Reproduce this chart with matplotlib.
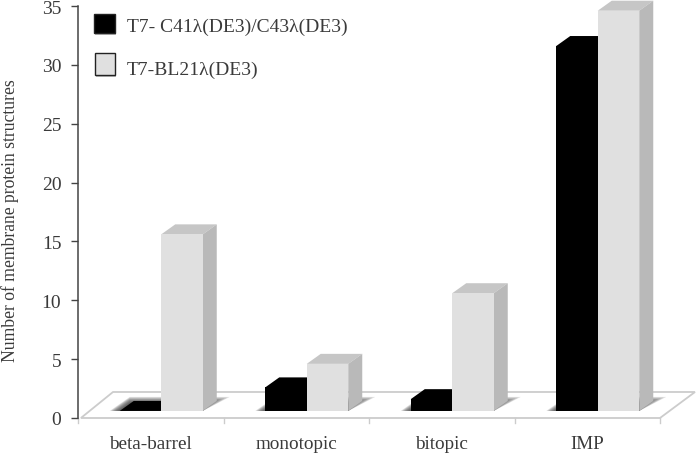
import matplotlib
matplotlib.use("Agg")
import matplotlib.pyplot as plt
import matplotlib.patches as patches

categories = ["beta-barrel", "monotopic", "bitopic", "IMP"]
c41_c43 = [0, 2, 1, 31]
bl21 = [15, 4, 10, 34]
y_ticks = [0, 5, 10, 15, 20, 25, 30, 35]
series_names = ["T7- C41\u03bb(DE3)/C43\u03bb(DE3)", "T7-BL21\u03bb(DE3)"]

W, H = 697, 456
plt.rcParams['font.family'] = ['Liberation Serif', 'DejaVu Serif']
TEXT = '#3a3a3a'

fig = plt.figure(figsize=(W / 100, H / 100), dpi=100)
# axes box in pixels: x 78-660, y 419-7
ax = fig.add_axes([78 / W, 1 - 419 / H, 582 / W, 412 / H])
ax.set_xlim(0, 4)
ax.set_ylim(0, 35)
for s in ['top', 'right', 'bottom']:
    ax.spines[s].set_visible(False)
ax.spines['left'].set_color('#444444')
ax.spines['left'].set_linewidth(1.1)
ax.patch.set_alpha(0)

# depth of the fake 3d, in data units
DX = 14 / 145.5
DY = 10 / 11.77
BASE = 0.6
BAR_W = 41.5 / 145.5
BAR_SHIFT = 10.5 / 145.5


def poly(pts, color, z, alpha=1.0, edge='none', lw=0):
    ax.add_patch(patches.Polygon(pts, closed=True, facecolor=color, edgecolor=edge,
                                 linewidth=lw, alpha=alpha, zorder=z, clip_on=False))


def draw_bar(x0, value, front, top, side, z):
    x1 = x0 + BAR_W
    y1 = BASE + value
    poly([(x0, y1), (x0 + DX, y1 + DY), (x1 + DX, y1 + DY), (x1, y1)], top, z)
    poly([(x1, BASE), (x1 + DX, BASE + DY), (x1 + DX, y1 + DY), (x1, y1)], side, z)
    poly([(x0, BASE), (x1, BASE), (x1, y1), (x0, y1)], front, z + 0.1)


def draw_shadow(x0, x1):
    # soft shadow on the floor, stacked see-through layers
    for i in range(10):
        k = 1 - i / 10
        sx = 27 / 145.5 * k
        sy = 14 / 11.77 * (0.5 + 0.5 * k)
        poly([(x0 - 10 / 145.5 * k, BASE), (x1, BASE),
              (x1 + sx, BASE + sy), (x0 + 10 / 145.5, BASE + sy)],
             '#444444', 1.5, alpha=0.16)


# floor
poly([(0.02, 0), (4, 0), (4 + 35 / 145.5, 26 / 11.77), (35 / 145.5, 26 / 11.77)],
     'white', 1, edge='#cccccc', lw=1.3)

for i, (a, b) in enumerate(zip(c41_c43, bl21)):
    left = i + 0.5 - BAR_W + BAR_SHIFT
    draw_shadow(left, left + 2 * BAR_W)
    draw_bar(left, a, 'black', 'black', 'black', 3)
    draw_bar(left + BAR_W, b, '#e0e0e0', '#c6c6c6', '#b9b9b9', 4)

ax.set_yticks(y_ticks)
ax.set_xticks([0.5, 1.5, 2.5, 3.5], categories)
ax.tick_params(axis='y', labelsize=14, labelcolor=TEXT, color='#444444', length=5, width=1, pad=7)
ax.tick_params(axis='x', length=0, labelsize=13.8, labelcolor=TEXT, pad=12.5)
for xt in range(5):
    ax.plot([xt, xt], [0, -0.45], color='#cccccc', lw=1, clip_on=False, zorder=1)

fig.text(10 / W, 1 - 221 / H, "Number of membrane protein structures", fontsize=12.7, color=TEXT,
         rotation=90, va='center', ha='center')

# legend, placed by hand in figure pixels
for (px, py, w, h, col), name, ty in zip(
        [(94, 15, 21, 19, 'black'), (95, 54, 20, 22, '#e0e0e0')], series_names, [27, 70]):
    fig.patches.append(patches.Rectangle(((px + 1) / W, 1 - (py + h + 2) / H), w / W, h / H,
                                         transform=fig.transFigure, facecolor='#bbbbbb',
                                         edgecolor='none'))
    fig.patches.append(patches.Rectangle((px / W, 1 - (py + h) / H), w / W, h / H,
                                         transform=fig.transFigure, facecolor=col,
                                         edgecolor='#222222', linewidth=1))
    fig.text(127 / W, 1 - ty / H, name, fontsize=14, color=TEXT, va='center', ha='left')

fig.savefig("out.png", dpi=100)
